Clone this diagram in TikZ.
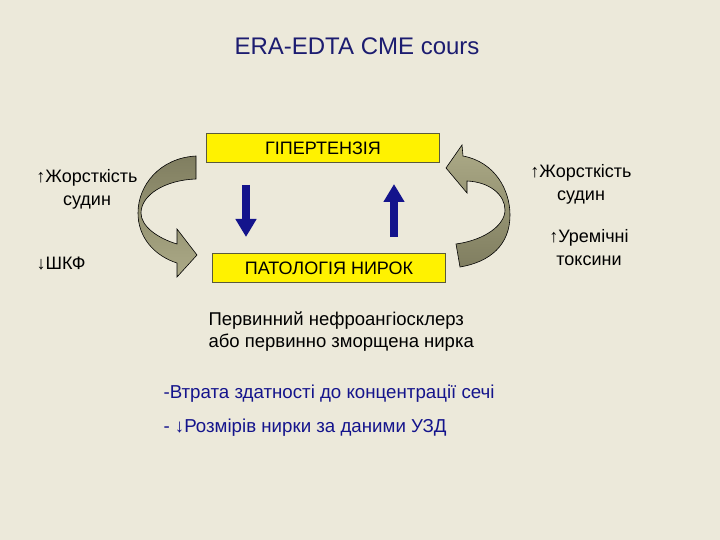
\documentclass[tikz,border=0pt]{standalone}
\usepackage{fontspec}
\setmainfont{Liberation Sans}
\usetikzlibrary{arrows.meta}
\definecolor{slidebg}{RGB}{236,233,218}
\definecolor{navy}{RGB}{28,28,112}
\definecolor{darkblue}{RGB}{20,20,140}
\definecolor{olivedark}{RGB}{128,126,96}
\definecolor{olivelight}{RGB}{172,170,135}
\definecolor{boxline}{RGB}{90,90,60}

\begin{document}
\begin{tikzpicture}[x=1pt,y=-1pt,
	yellowbox/.style={draw=boxline, line width=0.8pt, fill=yellow, minimum width=233pt, minimum height=29pt, inner sep=0pt,
		font=\fontsize{18}{21}\selectfont},
	sidetext/.style={align=center, font=\fontsize{18}{23}\selectfont},
	bluetext/.style={anchor=west, text=darkblue, font=\fontsize{18.7}{21}\selectfont},
	bluearrow/.style={draw=darkblue, line width=8pt, -{Triangle[length=18pt,width=20pt]}},
	ribbon/.style={draw=black, line width=0.6pt}]
			%%%%% START %%%%%
			
			\useasboundingbox (0,0) rectangle (720,540);
			\fill[slidebg] (0,0) rectangle (720,540);
			
			\node[text=navy, font=\fontsize{24}{28}\selectfont] (title) at (357,46) {ERA-EDTA CME cours};
			
			\node[yellowbox] (hyper) at (323,148) {ГІПЕРТЕНЗІЯ};
			\node[yellowbox] (kidney) at (329,268) {ПАТОЛОГІЯ НИРОК};
			
			% blue arrows between the boxes
			\coordinate (dtop) at (246,185);
			\coordinate (dbot) at (246,237);
			\coordinate (utop) at (394,184);
			\coordinate (ubot) at (394,237);
			\draw[bluearrow] (dtop) -- (dbot);
			\draw[bluearrow] (ubot) -- (utop);
			
			% left curved arrow
			\shade[ribbon, top color=olivedark, bottom color=olivelight]
				(196,156) .. controls (160,158) and (138,185) .. (138,213)
				.. controls (138,238) and (155,256) .. (177,263) -- (177,277) -- (197,255) -- (177,229) -- (177,244)
				.. controls (157,238) and (141,226) .. (141,213)
				.. controls (141,195) and (165,180) .. (196,179) -- cycle;
			
			% right curved arrow
			\shade[ribbon, top color=olivelight, bottom color=olivedark]
				(446,168) -- (462,145) -- (463,156) .. controls (495,162) and (510,190) .. (510,215)
				.. controls (510,245) and (490,262) .. (460,267) -- (456,244)
				.. controls (485,240) and (505,225) .. (505,210)
				.. controls (505,195) and (490,182) .. (467,181) -- (467,193) -- cycle;
			
			\node[sidetext] (stiffL) at (87,189) {↑Жорсткість\\судин};
			\node[sidetext, anchor=west] (gfr) at (33,264) {↓ШКФ};
			\node[sidetext] (stiffR) at (581,184) {↑Жорсткість\\судин};
			\node[sidetext] (toxins) at (589,248) {↑Уремічні\\токсини};
			
			\node[anchor=north west, align=left, font=\fontsize{18.5}{22}\selectfont] (primary) at (205,308)
				{Первинний нефроангіосклерз\\або первинно зморщена нирка};
			
			\node[bluetext] (loss) at (160,394) {-Втрата здатності до концентрації сечі};
			\node[bluetext] (size) at (160,428) {- ↓Розмірів нирки за даними УЗД};
			
			%%%%% END %%%%%
		\end{tikzpicture}
\end{document}
